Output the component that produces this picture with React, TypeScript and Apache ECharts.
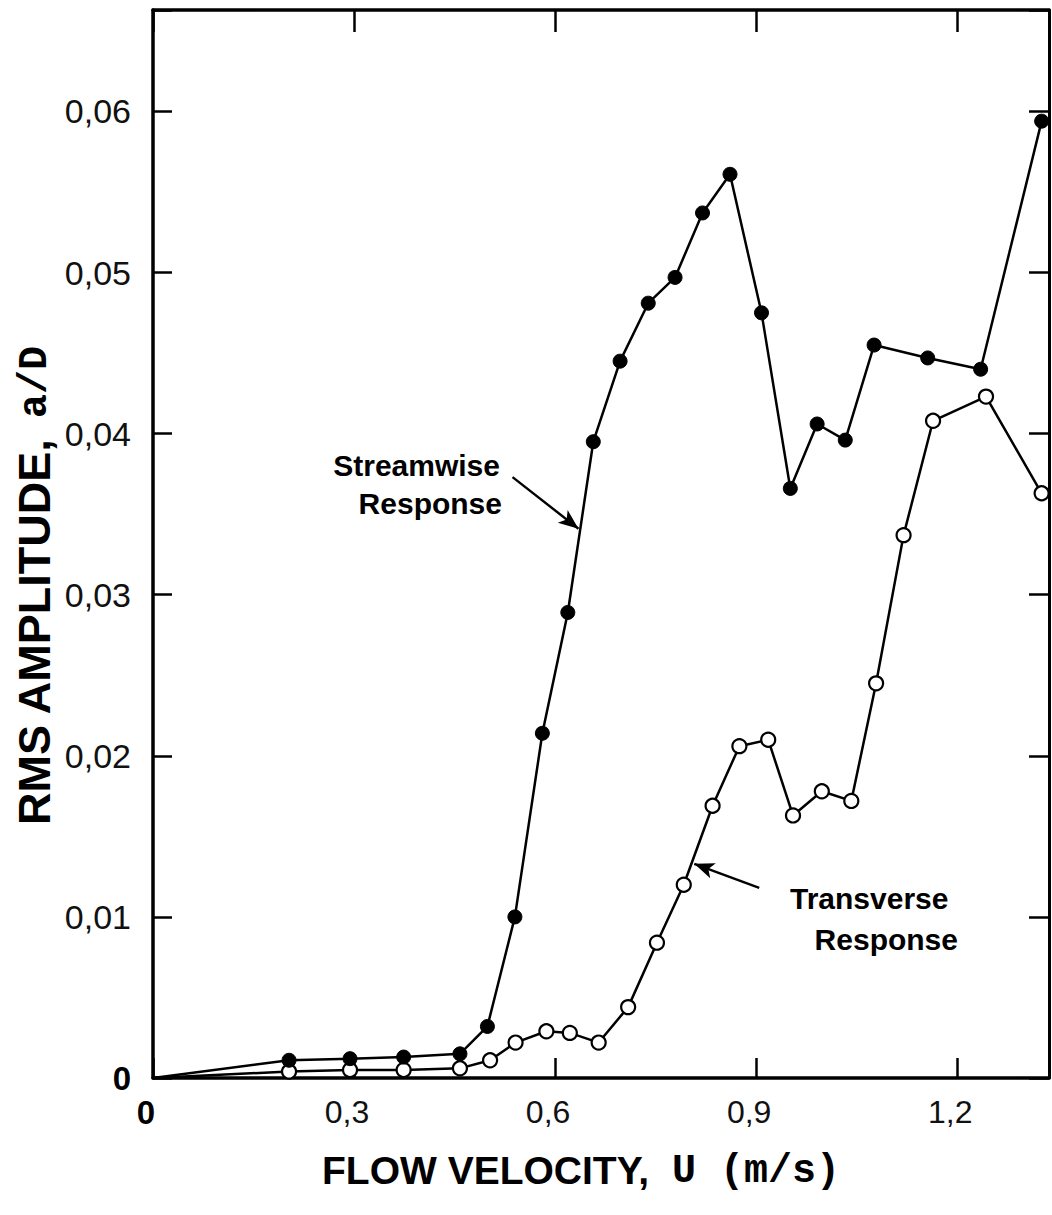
import React, { useEffect, useRef } from "react";
import * as echarts from "echarts";

// Streamwise response (filled circles)
const streamX = [0, 0.203, 0.294, 0.374, 0.458, 0.499, 0.54, 0.581, 0.619, 0.657, 0.697, 0.739, 0.779, 0.82, 0.861, 0.908, 0.951, 0.991, 1.033, 1.076, 1.156, 1.235, 1.326];
const streamY = [0, 0.0011, 0.0012, 0.0013, 0.0015, 0.0032, 0.01, 0.0214, 0.0289, 0.0395, 0.0445, 0.0481, 0.0497, 0.0537, 0.0561, 0.0475, 0.0366, 0.0406, 0.0396, 0.0455, 0.0447, 0.044, 0.0594];

// Transverse response (open circles)
const transX = [0, 0.203, 0.294, 0.374, 0.458, 0.503, 0.541, 0.587, 0.622, 0.665, 0.709, 0.752, 0.792, 0.835, 0.875, 0.918, 0.955, 0.998, 1.042, 1.079, 1.12, 1.164, 1.243, 1.326];
const transY = [0, 0.0004, 0.0005, 0.0005, 0.0006, 0.0011, 0.0022, 0.0029, 0.0028, 0.0022, 0.0044, 0.0084, 0.012, 0.0169, 0.0206, 0.021, 0.0163, 0.0178, 0.0172, 0.0245, 0.0337, 0.0408, 0.0423, 0.0363];

const xTickValues = [0, 0.3, 0.6, 0.9, 1.2];
const yTickValues = [0, 0.01, 0.02, 0.03, 0.04, 0.05, 0.06];
const X_MIN = 0;
const X_MAX = 1.337;
const Y_MIN = 0;
const Y_MAX = 0.0663;

const xTitle = "FLOW VELOCITY,";
const xTitleUnit = "U (m/s)";
const yTitle = "RMS AMPLITUDE,";
const yTitleUnit = "a/D";

// annotation arrows (data coordinates): [from, to]
const streamArrow = [[0.5365, 0.0373], [0.6349, 0.0341]];
const transArrow = [[0.9046, 0.0118], [0.8077, 0.0133]];

function fmt(v: number, ticks: number[], digits: number) {
  if (Math.abs(v) < 1e-9) return "{z|0}";
  const hit = ticks.find((t) => Math.abs(t - v) < 1e-7);
  if (hit === undefined) return "";
  return hit.toFixed(digits).replace(".", ",");
}

const labelFont = "'Liberation Sans', Arial, sans-serif";
const boldFont = "'Liberation Sans', Arial, Helvetica, sans-serif";
const monoFont = "'Liberation Mono', 'DejaVu Sans Mono', monospace";

export default function App() {
  const ref = useRef<HTMLDivElement>(null);
  useEffect(() => {
    if (!ref.current) return;
    const chart = echarts.init(ref.current, null, { renderer: "svg" });
    const axisLine = { show: true, onZero: false, lineStyle: { color: "#000", width: 3.5 } };
    const tickStyle = { color: "#000", width: 2.5 };
    const zeroRich = { z: { fontFamily: boldFont, fontWeight: "bold", fontSize: 33, color: "#000" } };
    const annot = (text: string, x: number, y: number, align: string) => ({
      type: "text",
      x,
      y,
      style: { text, align, verticalAlign: "middle", fontFamily: boldFont, fontWeight: "bold", fontSize: 30, fill: "#000" },
    });
    chart.setOption({
      animation: false,
      backgroundColor: "#fff",
      grid: { left: 153, right: 2, top: 10, bottom: 137, containLabel: false },
      xAxis: [
        {
          type: "value",
          min: X_MIN,
          max: X_MAX,
          interval: 0.3,
          position: "bottom",
          axisLine,
          splitLine: { show: false },
          axisTick: { show: true, inside: true, length: 20, lineStyle: tickStyle },
          axisLabel: {
            show: true,
            margin: 18,
            padding: [0, 14, 0, 0],
            fontFamily: labelFont,
            fontSize: 32,
            color: "#111",
            formatter: (v: number) => fmt(v, xTickValues, 1),
            rich: zeroRich,
          },
        },
        {
          type: "value",
          min: X_MIN,
          max: X_MAX,
          interval: 0.3,
          position: "top",
          axisLine,
          splitLine: { show: false },
          axisTick: { show: true, inside: true, length: 22, lineStyle: tickStyle },
          axisLabel: { show: false },
        },
      ],
      yAxis: [
        {
          type: "value",
          min: Y_MIN,
          max: Y_MAX,
          interval: 0.01,
          position: "left",
          axisLine,
          splitLine: { show: false },
          axisTick: { show: true, inside: true, length: 19, lineStyle: tickStyle },
          axisLabel: {
            show: true,
            margin: 22,
            fontFamily: labelFont,
            fontSize: 34,
            color: "#111",
            formatter: (v: number) => fmt(v, yTickValues, 2),
            rich: zeroRich,
          },
        },
        {
          type: "value",
          min: Y_MIN,
          max: Y_MAX,
          interval: 0.01,
          position: "right",
          axisLine: { show: true, onZero: false, lineStyle: { color: "#000", width: 3 } },
          splitLine: { show: false },
          axisTick: { show: true, inside: true, length: 20, lineStyle: tickStyle },
          axisLabel: { show: false },
        },
      ],
      graphic: [
        {
          type: "text",
          x: 34,
          y: 825,
          rotation: Math.PI / 2,
          style: { text: yTitle, align: "left", verticalAlign: "middle", fontFamily: boldFont, fontWeight: "bold", fontSize: 45, fill: "#000" },
        },
        {
          type: "text",
          x: 35,
          y: 418,
          rotation: Math.PI / 2,
          style: { text: yTitleUnit, align: "left", verticalAlign: "middle", fontFamily: monoFont, fontWeight: "bold", fontSize: 40, fill: "#000" },
        },
        {
          type: "text",
          x: 322,
          y: 1170,
          style: { text: xTitle, align: "left", verticalAlign: "middle", fontFamily: boldFont, fontWeight: "bold", fontSize: 39, fill: "#000" },
        },
        {
          type: "text",
          x: 672,
          y: 1171,
          style: { text: xTitleUnit, align: "left", verticalAlign: "middle", fontFamily: monoFont, fontWeight: "bold", fontSize: 40, fill: "#000" },
        },
        annot("Streamwise", 500, 465, "right"),
        annot("Response", 502, 503, "right"),
        annot("Transverse", 790, 898, "left"),
        annot("Response", 958, 939, "right"),
      ],
      series: [
        {
          name: "Transverse Response",
          type: "line",
          data: transX.map((x, i) => (i === 0 ? { value: [x, transY[i]], symbol: "none" } : [x, transY[i]])),
          symbol: "circle",
          symbolSize: 14,
          showAllSymbol: true,
          lineStyle: { color: "#000", width: 2.5 },
          itemStyle: { color: "#fff", borderColor: "#000", borderWidth: 2.2 },
          z: 3,
          markLine: {
            silent: true,
            symbol: ["none", "arrow"],
            symbolSize: [12, 20],
            label: { show: false },
            lineStyle: { color: "#000", width: 2.4, type: "solid" },
            data: [[{ coord: transArrow[0] }, { coord: transArrow[1] }]],
          },
        },
        {
          name: "Streamwise Response",
          type: "line",
          data: streamX.map((x, i) => (i === 0 ? { value: [x, streamY[i]], symbol: "none" } : [x, streamY[i]])),
          symbol: "circle",
          symbolSize: 14,
          showAllSymbol: true,
          lineStyle: { color: "#000", width: 2.5 },
          itemStyle: { color: "#000", borderColor: "#000", borderWidth: 1 },
          z: 4,
          markLine: {
            silent: true,
            symbol: ["none", "arrow"],
            symbolSize: [12, 20],
            label: { show: false },
            lineStyle: { color: "#000", width: 2.4, type: "solid" },
            data: [[{ coord: streamArrow[0] }, { coord: streamArrow[1] }]],
          },
        },
      ],
    });
    return () => chart.dispose();
  }, []);
  return (
    <div
      ref={ref}
      style={{ position: "fixed", left: 0, top: 0, width: 1052, height: 1215, background: "#fff" }}
    />
  );
}
